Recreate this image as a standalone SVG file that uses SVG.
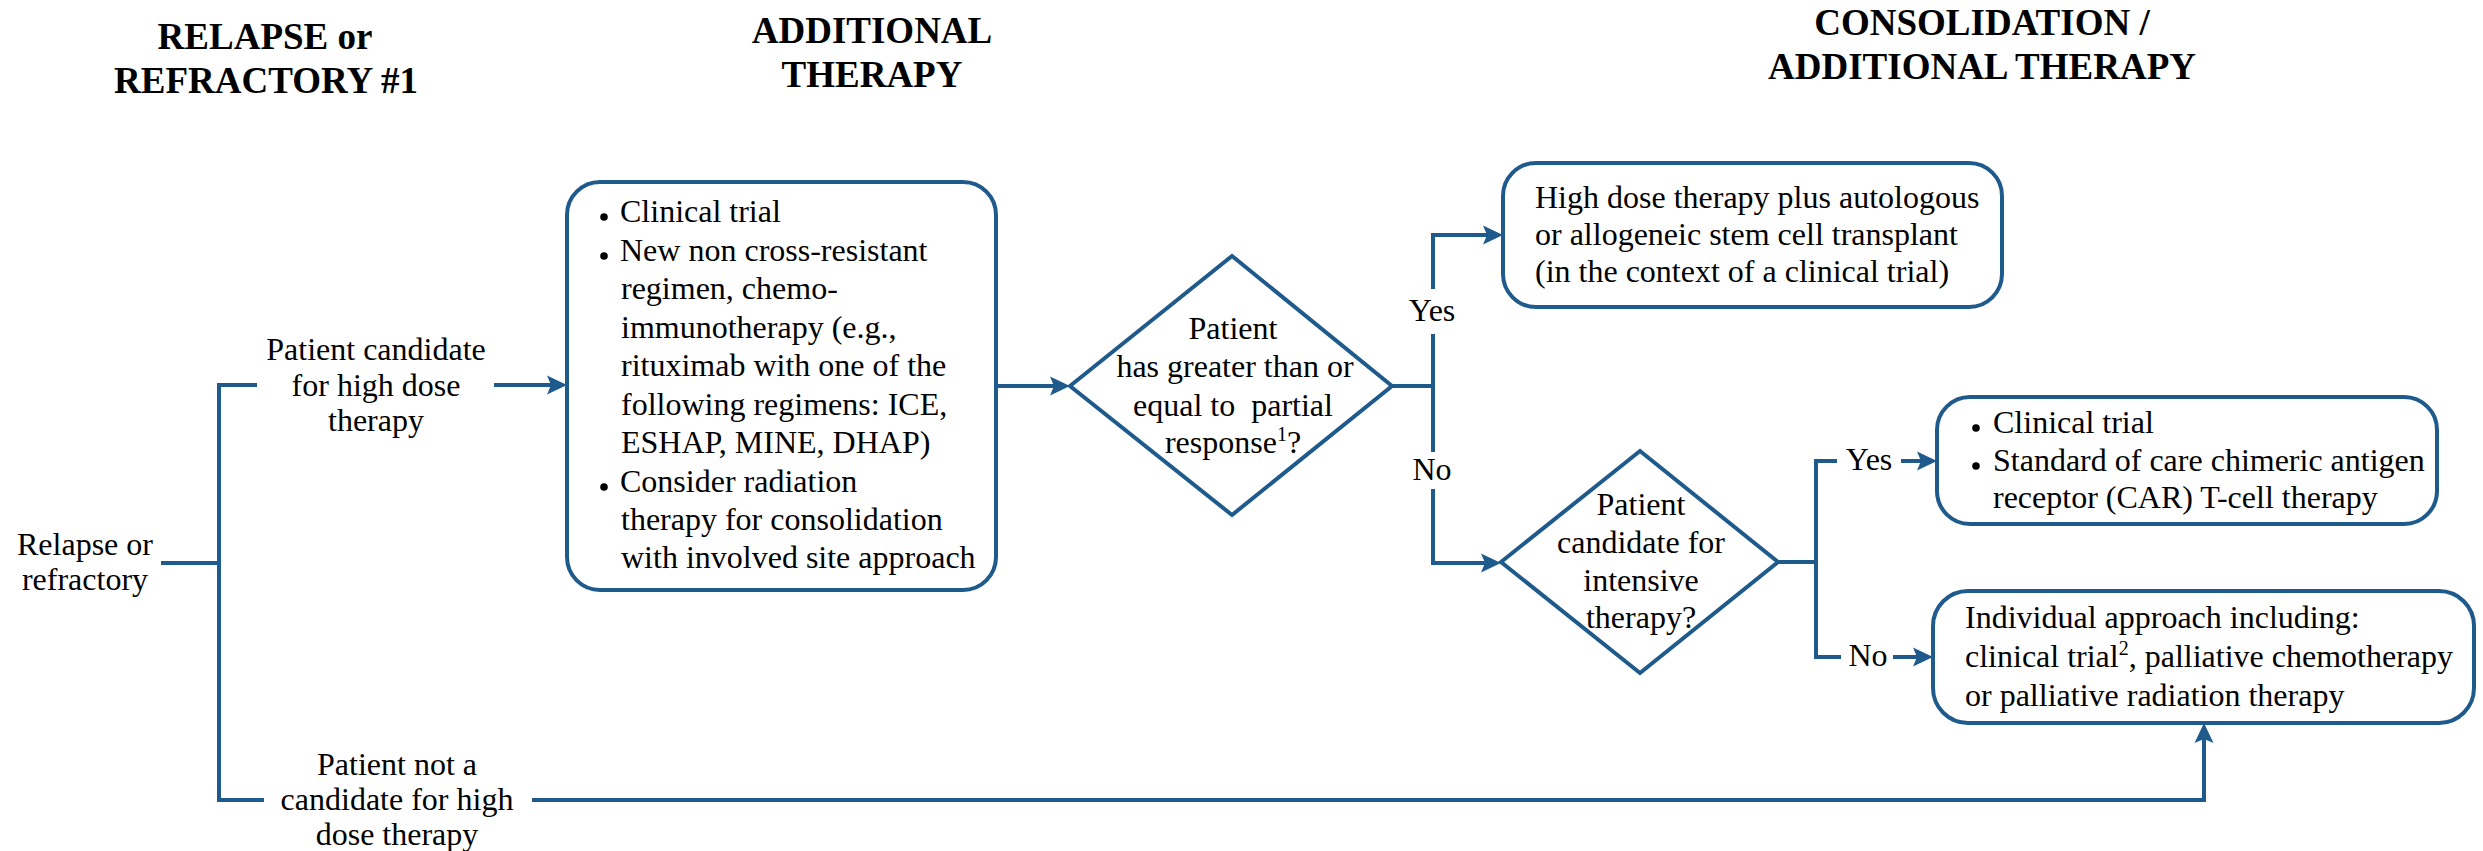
<svg xmlns="http://www.w3.org/2000/svg" width="2483" height="851" viewBox="0 0 2483 851">
  <defs>
    <style>
      .ln { fill: none; stroke: #1f5a8c; stroke-width: 4; }
      .box { fill: #ffffff; stroke: #1f5a8c; stroke-width: 4; }
      .t { font-family: "Liberation Serif", "Times New Roman", serif; font-size: 32px; fill: #000000; white-space: pre; }
      .h { font-family: "Liberation Serif", "Times New Roman", serif; font-size: 37px; font-weight: bold; fill: #000000; text-anchor: middle; }
      .c { text-anchor: middle; }
      .dot { fill: #000000; }
    </style>
    <marker id="arrow" markerUnits="userSpaceOnUse" markerWidth="22" markerHeight="20" viewBox="0 0 22 20" refX="12" refY="10" orient="auto">
      <path d="M0,0.5 L20,10 L0,19.5 L4,10 Z" fill="#1f5a8c"/>
    </marker>
  </defs>

  <rect width="2483" height="851" fill="#ffffff"/>

  <!-- column headings -->
  <g id="headings">
    <text class="h" x="265" y="49">RELAPSE or</text>
    <text class="h" x="266" y="93">REFRACTORY #1</text>
    <text class="h" x="872" y="43">ADDITIONAL</text>
    <text class="h" x="872" y="87">THERAPY</text>
    <text class="h" x="1982" y="35">CONSOLIDATION /</text>
    <text class="h" x="1982" y="79">ADDITIONAL THERAPY</text>
  </g>

  <!-- connectors -->
  <g id="connectors">
    <path class="ln" d="M161,563 H219"/>
    <path class="ln" d="M257,385 H219 V800 H264"/>
    <path class="ln" d="M494,385 H559" marker-end="url(#arrow)"/>
    <path class="ln" d="M996,386 H1062" marker-end="url(#arrow)"/>
    <path class="ln" d="M1392,386 H1433"/>
    <path class="ln" d="M1433,289 V235 H1495" marker-end="url(#arrow)"/>
    <path class="ln" d="M1433,334 V452"/>
    <path class="ln" d="M1433,489 V563 H1493" marker-end="url(#arrow)"/>
    <path class="ln" d="M1778,562 H1816"/>
    <path class="ln" d="M1837,461 H1816 V657 H1841"/>
    <path class="ln" d="M1901,461 H1929" marker-end="url(#arrow)"/>
    <path class="ln" d="M1893,657 H1925" marker-end="url(#arrow)"/>
    <path class="ln" d="M532,800 H2204 V731" marker-end="url(#arrow)"/>
  </g>

  <!-- edge labels -->
  <g id="edge-labels">
    <text class="t c" x="376" y="360">Patient candidate</text>
    <text class="t c" x="376" y="396">for high dose</text>
    <text class="t c" x="376" y="431">therapy</text>
    <text class="t c" x="397" y="775">Patient not a</text>
    <text class="t c" x="397" y="810">candidate for high</text>
    <text class="t c" x="397" y="845">dose therapy</text>
    <text class="t c" x="1432" y="321">Yes</text>
    <text class="t c" x="1432" y="480">No</text>
    <text class="t c" x="1869" y="470">Yes</text>
    <text class="t c" x="1868" y="666">No</text>
  </g>

  <g id="start">
    <text class="t c" x="85" y="555">Relapse or</text>
    <text class="t c" x="85" y="590">refractory</text>
  </g>

  <g id="additional-therapy">
    <rect class="box" x="567" y="182" width="429" height="408" rx="33"/>
    <circle class="dot" cx="604" cy="217" r="3.8"/>
    <circle class="dot" cx="604" cy="256" r="3.8"/>
    <circle class="dot" cx="604" cy="487" r="3.8"/>
    <text class="t" x="620" y="222">Clinical trial</text>
    <text class="t" x="620" y="261">New non cross-resistant</text>
    <text class="t" x="621" y="299">regimen, chemo-</text>
    <text class="t" x="621" y="338">immunotherapy (e.g.,</text>
    <text class="t" x="621" y="376">rituximab with one of the</text>
    <text class="t" x="621" y="415">following regimens: ICE,</text>
    <text class="t" x="621" y="453">ESHAP, MINE, DHAP)</text>
    <text class="t" x="620" y="492">Consider radiation</text>
    <text class="t" x="621" y="530">therapy for consolidation</text>
    <text class="t" x="621" y="568">with involved site approach</text>
  </g>

  <g id="response-decision">
    <polygon class="box" points="1070,386 1232,256 1392,386 1232,515"/>
    <text class="t c" x="1233" y="339">Patient</text>
    <text class="t c" x="1235" y="377">has greater than or</text>
    <text class="t c" x="1233" y="416">equal to  partial</text>
    <text class="t c" x="1233" y="453">response<tspan font-size="20" dy="-12">1</tspan><tspan dy="12">?</tspan></text>
  </g>

  <g id="transplant">
    <rect class="box" x="1503" y="163" width="499" height="144" rx="33"/>
    <text class="t" x="1535" y="208">High dose therapy plus autologous</text>
    <text class="t" x="1535" y="245">or allogeneic stem cell transplant</text>
    <text class="t" x="1535" y="282">(in the context of a clinical trial)</text>
  </g>

  <g id="intensive-decision">
    <polygon class="box" points="1501,562 1640,451 1778,562 1640,673"/>
    <text class="t c" x="1641" y="515">Patient</text>
    <text class="t c" x="1641" y="553">candidate for</text>
    <text class="t c" x="1641" y="591">intensive</text>
    <text class="t c" x="1641" y="628">therapy?</text>
  </g>

  <g id="car-t">
    <rect class="box" x="1937" y="397" width="500" height="127" rx="33"/>
    <circle class="dot" cx="1976" cy="428" r="3.8"/>
    <circle class="dot" cx="1976" cy="466" r="3.8"/>
    <text class="t" x="1993" y="433">Clinical trial</text>
    <text class="t" x="1993" y="471">Standard of care chimeric antigen</text>
    <text class="t" x="1993" y="508">receptor (CAR) T-cell therapy</text>
  </g>

  <g id="individual-approach">
    <rect class="box" x="1933" y="591" width="541" height="132" rx="35"/>
    <text class="t" x="1965" y="628">Individual approach including:</text>
    <text class="t" x="1965" y="667">clinical trial<tspan font-size="20" dy="-12">2</tspan><tspan dy="12">, palliative chemotherapy</tspan></text>
    <text class="t" x="1965" y="706">or palliative radiation therapy</text>
  </g>
</svg>
